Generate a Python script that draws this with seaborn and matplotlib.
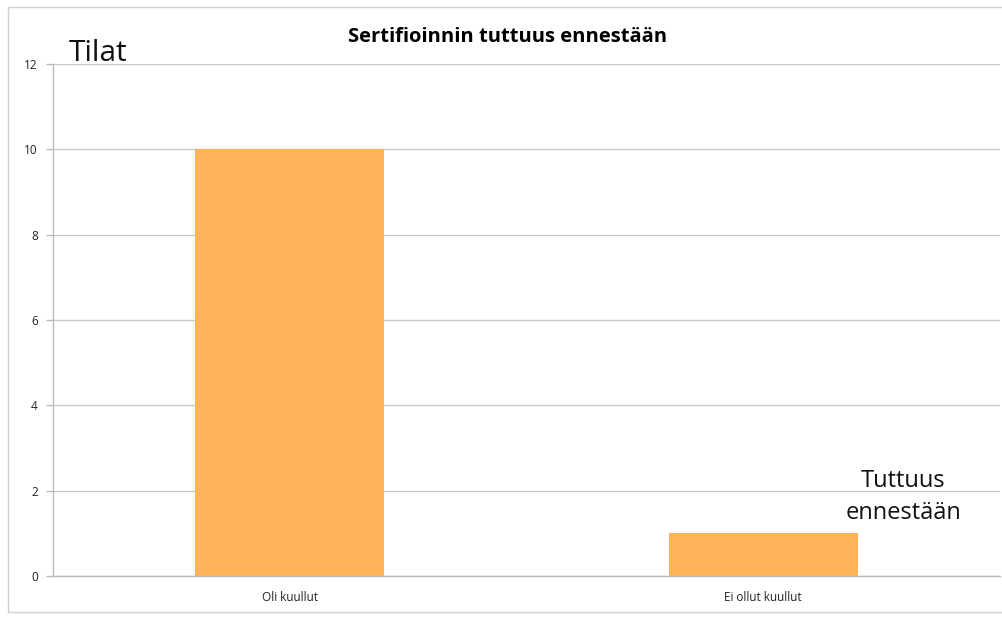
import seaborn as sns
import matplotlib.pyplot as plt
import pandas as pd
from matplotlib.patches import Rectangle

# Data
categories = ['Oli kuullut', 'Ei ollut kuullut']
counts = [10, 1]
y_ticks = [0, 2, 4, 6, 8, 10, 12]

df = pd.DataFrame({'tuttuus': categories, 'tilat': counts})

sns.set_style('white')
plt.rcParams['font.family'] = ['Open Sans', 'DejaVu Sans']

fig = plt.figure(figsize=(10.02, 6.17), dpi=100)
ax = fig.add_axes([0.0529, 0.0665, 0.9451, 0.8298])

sns.barplot(data=df, x='tuttuus', y='tilat', color='#FFB359', width=0.4,
            saturation=1, linewidth=0, edgecolor='none', ax=ax, zorder=2)

ax.set_xlim(-0.5, 1.5)
ax.set_ylim(0, 12)
ax.set_yticks(y_ticks)
ax.set_yticklabels([str(v) for v in y_ticks], fontsize=8.5, color='#222222')
ax.set_xticks([0, 1])
ax.set_xticklabels(categories, fontsize=8.5, color='#222222')
ax.set_xticks([0.5, 1.5], minor=True)
ax.tick_params(axis='x', which='major', length=0, pad=11)
ax.tick_params(axis='x', which='minor', length=5, color='#bbbbbb', width=1)
ax.tick_params(axis='y', length=5, color='#bbbbbb', width=1, pad=6, left=True)
ax.grid(axis='y', color='#c8c8c8', linewidth=1, zorder=0)
ax.set_axisbelow(True)
ax.set_xlabel('')
ax.set_ylabel('')

for side in ['top', 'right']:
    ax.spines[side].set_visible(False)
for side in ['left', 'bottom']:
    ax.spines[side].set_color('#bbbbbb')
    ax.spines[side].set_linewidth(1)

# Titles and labels
fig.text(0.507, 0.94, 'Sertifioinnin tuttuus ennestään', ha='center', va='center',
         fontsize=14.5, fontweight='bold', color='black')
fig.text(0.069, 0.913, 'Tilat', ha='left', va='center', fontsize=21.5, color='#111111')
fig.text(0.9016, 0.195, 'Tuttuus\nennestään', ha='center', va='center',
         fontsize=17, linespacing=1.45, color='#111111')

# outer frame
fig.patches.append(Rectangle((0.008, 0.008), 1.2, 0.981, transform=fig.transFigure,
                             fill=False, edgecolor='#d0d0d0', linewidth=1))

fig.savefig('out.png', dpi=100)
